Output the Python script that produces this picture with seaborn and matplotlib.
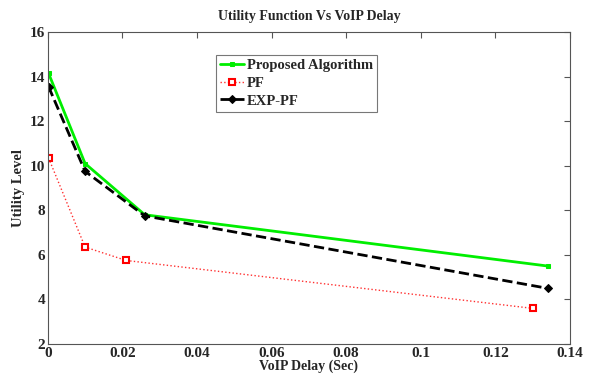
import pandas as pd
import matplotlib.pyplot as plt
import seaborn as sns

# data
proposed_x = [0.0002, 0.010, 0.026, 0.134]
proposed_y = [14.15, 10.1, 7.8, 5.5]
pf_x = [0.0002, 0.010, 0.021, 0.130]
pf_y = [10.35, 6.35, 5.75, 3.6]
exp_x = [0.0002, 0.010, 0.026, 0.134]
exp_y = [13.55, 9.75, 7.75, 4.5]

sns.set_style("white")
plt.rcParams["font.family"] = ["Liberation Serif", "DejaVu Serif"]
plt.rcParams["font.weight"] = "bold"

fig = plt.figure(figsize=(5.9, 3.77), dpi=100)
ax = fig.add_axes([0.081, 0.0875, 0.885, 0.8275])

df_prop = pd.DataFrame({"x": proposed_x, "y": proposed_y})
df_pf = pd.DataFrame({"x": pf_x, "y": pf_y})
df_exp = pd.DataFrame({"x": exp_x, "y": exp_y})

sns.lineplot(data=df_prop, x="x", y="y", ax=ax, color="#00ee00", linewidth=2,
             marker="s", markersize=3.5, markeredgecolor="#00ee00",
             label="Proposed Algorithm")
sns.lineplot(data=df_pf, x="x", y="y", ax=ax, color="#ff3030", linewidth=1,
             linestyle=":", marker="s", markersize=5, markerfacecolor="white",
             markeredgecolor="red", markeredgewidth=1.5, label="PF")
sns.lineplot(data=df_exp, x="x", y="y", ax=ax, color="black", linewidth=2,
             linestyle="--", marker="D", markersize=4, markeredgecolor="black",
             label="EXP-PF")

ax.set_xlim(0, 0.14)
ax.set_ylim(2, 16)
ax.set_xticks([0, 0.02, 0.04, 0.06, 0.08, 0.1, 0.12, 0.14])
ax.set_xticklabels(["0", "0.02", "0.04", "0.06", "0.08", "0.1", "0.12", "0.14"])
ax.set_yticks([2, 4, 6, 8, 10, 12, 14, 16])
ax.tick_params(direction="in", top=True, right=True, length=4, color="#555555",
               labelsize=11, pad=2)
for lab in ax.get_xticklabels() + ax.get_yticklabels():
    lab.set_fontweight("bold")
for s in ax.spines.values():
    s.set_color("#555555")
    s.set_linewidth(0.8)

ax.set_title("Utility Function Vs VoIP Delay", fontsize=10, fontweight="bold", pad=9)
ax.set_xlabel("VoIP Delay (Sec)", fontsize=10, fontweight="bold", labelpad=0)
ax.set_ylabel("Utility Level", fontsize=10.5, fontweight="bold", labelpad=3)

leg = ax.legend(loc="upper left", bbox_to_anchor=(0.322, 0.927), borderaxespad=0,
                frameon=True, fancybox=False, edgecolor="#555555",
                handlelength=1.6, handletextpad=0.2, borderpad=0.3,
                labelspacing=0.3, prop={"weight": "bold", "size": 10.5})
leg.get_frame().set_linewidth(0.8)

fig.savefig("out.png", dpi=100)
